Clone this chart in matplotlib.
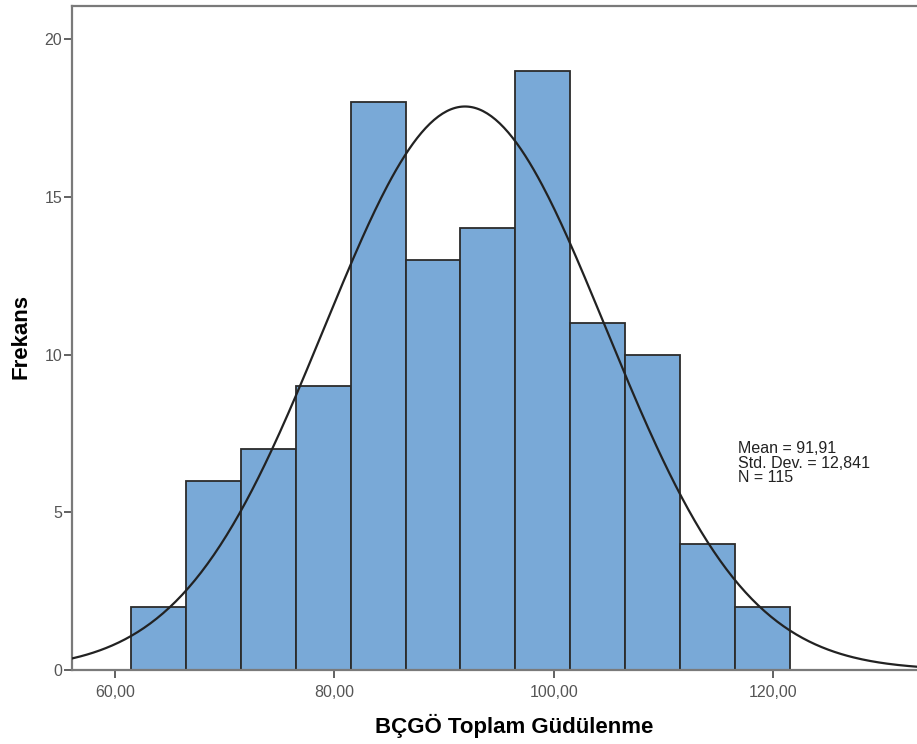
import numpy as np
import matplotlib.pyplot as plt

# histogram bins (left edges) and frequencies
bin_edges = [61.5, 66.5, 71.5, 76.5, 81.5, 86.5, 91.5, 96.5, 101.5, 106.5, 111.5, 116.5, 121.5]
counts = [2, 6, 7, 9, 18, 13, 14, 19, 11, 10, 4, 2]
mean, sd, n = 91.91, 12.841, 115
xticks = [60, 80, 100, 120]
xtick_labels = ['60,00', '80,00', '100,00', '120,00']
yticks = [0, 5, 10, 15, 20]

plt.rcParams['font.family'] = ['Liberation Sans', 'DejaVu Sans']

fig = plt.figure(figsize=(9.17, 7.44), dpi=100)
ax = fig.add_axes([72 / 917, 1 - 670 / 744, 845 / 917, 664 / 744])

edges = np.array(bin_edges)
widths = np.diff(edges)
ax.bar(edges[:-1], counts, width=widths, align='edge',
       color='#79a9d7', edgecolor='#2b2b2b', linewidth=1.3, zorder=2)

# normal curve scaled to counts
bw = widths[0]
xs = np.linspace(56.1, 133.1, 400)
ys = n * bw / (sd * np.sqrt(2 * np.pi)) * np.exp(-0.5 * ((xs - mean) / sd) ** 2)
ax.plot(xs, ys, color='#222222', linewidth=1.6, zorder=3)

ax.set_xlim(56.1, 133.1)
ax.set_ylim(0, 21.05)

ax.set_xticks(xticks)
ax.set_xticklabels(xtick_labels)
ax.set_yticks(yticks)
ax.tick_params(axis='both', colors='#555555', labelsize=11.5, length=6, width=1.3)
ax.tick_params(axis='x', pad=5)
ax.tick_params(axis='y', pad=1)

for s in ['left', 'bottom', 'top']:
    ax.spines[s].set_color('#7a7a7a')
    ax.spines[s].set_linewidth(1.6)
ax.spines['right'].set_visible(False)

ax.set_xlabel('BÇGÖ Toplam Güdülenme', fontsize=16, fontweight='bold')
ax.set_ylabel('Frekans', fontsize=16, fontweight='bold')
ax.xaxis.set_label_coords(514 / 917, 1 - 726 / 744, transform=fig.transFigure)
ax.yaxis.set_label_coords(21 / 917, 1 - 337 / 744, transform=fig.transFigure)
ax.xaxis.label.set_va('center')
ax.yaxis.label.set_va('center')

ax.text(738 / 917, 1 - 463 / 744, 'Mean = 91,91\nStd. Dev. = 12,841\nN = 115',
        transform=fig.transFigure, fontsize=11.5, va='center', ha='left',
        linespacing=0.92, color='#222222')

fig.savefig('out.png', dpi=100)
